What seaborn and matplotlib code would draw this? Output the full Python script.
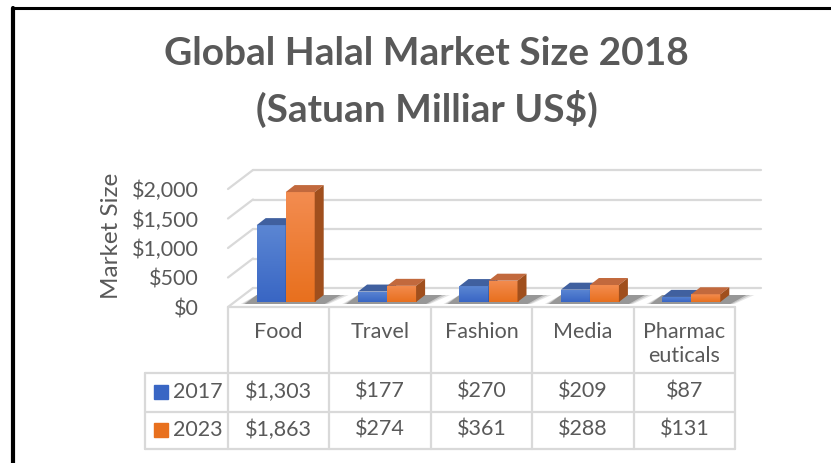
import numpy as np
import pandas as pd
import seaborn as sns
import matplotlib.pyplot as plt
from matplotlib.patches import Polygon
from matplotlib.lines import Line2D
from matplotlib.colors import LinearSegmentedColormap

# data
categories = ["Food", "Travel", "Fashion", "Media", "Pharmaceuticals"]
table_labels = ["Food", "Travel", "Fashion", "Media", "Pharmac\neuticals"]
years = ["2017", "2023"]
values_2017 = [1303, 177, 270, 209, 87]
values_2023 = [1863, 274, 361, 288, 131]
y_ticks = [0, 500, 1000, 1500, 2000]

df = pd.DataFrame({
    "Category": categories * 2,
    "Year": [years[0]] * 5 + [years[1]] * 5,
    "Value": values_2017 + values_2023,
})

sns.set_theme(style="white")
plt.rcParams["font.family"] = ["Lato", "DejaVu Sans"]
grey = "#595959"
line_grey = "#D9D9D9"

# colours: front (top, bottom of gradient), top face, side face
front_cols = {"2017": ("#5B86D3", "#3966C4"), "2023": ("#F38C50", "#E8701E")}
top_cols = {"2017": "#40609F", "2023": "#C2693D"}
side_cols = {"2017": "#2E4E8E", "2023": "#A04F1D"}

W, H = 831, 463
fig = plt.figure(figsize=(W / 100, H / 100), dpi=100)


def frac(left, top, right, bottom):
    return [left / W, 1 - bottom / H, (right - left) / W, (bottom - top) / H]


px_y = 0.059          # pixels per value unit on the front plane
ymax = 2400
ax = fig.add_axes(frac(228, 307 - ymax * px_y, 735, 307))
ax.set_facecolor("none")

sns.barplot(data=df, x="Category", y="Value", hue="Year", order=categories,
            hue_order=years, palette={y: front_cols[y][1] for y in years},
            width=0.572, saturation=1, legend=False, ax=ax)
ax.set_xlim(-0.5, 4.5)
ax.set_ylim(0, ymax)
px_x = ax.bbox.width / 5 / (fig.dpi / 100)


def off(dx, dy):
    # pixel offset -> data offset
    return dx / px_x, dy / px_y


# back wall and side wall
wdx, wdy = off(25, 19)
for v in y_ticks:
    ax.plot([-0.5 + wdx, 4.5 + wdx + 0.01], [v + wdy, v + wdy], color=line_grey,
            lw=1.6, zorder=1, clip_on=False)
    ax.plot([-0.5, -0.5 + wdx], [v, v + wdy], color=line_grey, lw=1.6,
            zorder=1, clip_on=False)

# bars in 3D
sx, sy = off(7, 5)
bdx, bdy = off(9, 7)
bars = [p for p in ax.patches]
for i, p in enumerate(bars):
    yr = years[i // 5]
    z = 3 if yr == "2017" else 4
    x0 = p.get_x() + sx
    w, h = p.get_width(), p.get_height()
    p.set_x(x0)
    p.set_y(sy)
    p.set_zorder(z)
    p.set_edgecolor("none")
    x1, y0, y1 = x0 + w, sy, sy + h
    cmap = LinearSegmentedColormap.from_list("g", [front_cols[yr][1], front_cols[yr][0]])
    im = ax.imshow(np.linspace(0, 1, 64).reshape(-1, 1), extent=[x0, x1, y0, y1],
                   origin="lower", cmap=cmap, aspect="auto", zorder=z + 0.01)
    im.set_clip_path(p)
    ax.add_patch(Polygon([(x0, y1), (x1, y1), (x1 + bdx, y1 + bdy), (x0 + bdx, y1 + bdy)],
                         closed=True, facecolor=top_cols[yr], edgecolor="none",
                         zorder=z + 0.02, clip_on=False))
    ax.add_patch(Polygon([(x1, y0), (x1, y1), (x1 + bdx, y1 + bdy), (x1 + bdx, y0 + bdy)],
                         closed=True, facecolor=side_cols[yr], edgecolor="none",
                         zorder=z + 0.02, clip_on=False))

# soft shadows on the floor
for i in range(5):
    b, o = bars[i], bars[i + 5]
    xl, xr = b.get_x(), o.get_x() + o.get_width()
    for k, a in zip(range(3), [0.12, 0.18, 0.3]):
        e = 6 - 2 * k
        pts = [(xl - off(10 + e, 0)[0], sy - off(0, 2)[1]),
               (xr + off(8 + e, 0)[0], sy - off(0, 2)[1]),
               (xr + off(22 + 2 * e, 0)[0], sy + off(0, 7)[1]),
               (xl, sy + off(0, 7)[1])]
        ax.add_patch(Polygon(pts, closed=True, facecolor="#303030", alpha=a,
                             edgecolor="none", zorder=2, clip_on=False))

ax.set_xlim(-0.5, 4.5)
ax.set_ylim(0, ymax)
ax.set_xticks([])
ax.set_xlabel("")
ax.set_yticks(y_ticks)
ax.set_yticklabels([f"${v:,}" for v in y_ticks])
ax.tick_params(axis="y", length=0, pad=21, labelsize=15.5, labelcolor=grey)
ax.set_ylabel("Market Size", fontsize=17.5, color=grey, labelpad=7)
for s in ax.spines.values():
    s.set_visible(False)
ax.grid(False)

# data table
tax = fig.add_axes(frac(228, 307, 735, 449))
tax.set_xlim(-0.5, 4.5)
tax.set_ylim(142, 0)
tax.axis("off")
x_left = -0.5 - 83 / px_x
kw = dict(color=line_grey, lw=1.6, clip_on=False)
tax.plot([-0.5, 4.5], [0, 0], **kw)
for yy in [66, 105, 142]:
    tax.plot([x_left, 4.5], [yy, yy], **kw)
for i in range(6):
    tax.plot([i - 0.5, i - 0.5], [0, 142], **kw)
tax.plot([x_left, x_left], [66, 142], **kw)

for i, lab in enumerate(table_labels):
    tax.text(i, 15, lab, ha="center", va="top", fontsize=15.5, color=grey,
             linespacing=1.25)
for row_y, yr, vals in [(85, years[0], values_2017), (123, years[1], values_2023)]:
    tax.plot([x_left + 16 / px_x], [row_y], marker="s", markersize=9.5,
             color=front_cols[yr][1], clip_on=False)
    tax.text(x_left + 28 / px_x, row_y, yr, ha="left", va="center", fontsize=15.5,
             color=grey)
    for i, v in enumerate(vals):
        tax.text(i, row_y, f"${v:,}", ha="center", va="center", fontsize=15.5,
                 color=grey)

# title
fig.text(426.5 / W, 1 - 65 / H, "Global Halal Market Size 2018", ha="center",
         va="baseline", fontsize=28, fontweight="bold", color=grey)
fig.text(426.5 / W, 1 - 122 / H, "(Satuan Milliar US$)", ha="center",
         va="baseline", fontsize=28, fontweight="bold", color=grey)

# screenshot frame
fig.add_artist(Line2D([13 / W, 13 / W], [0, 1 - 8 / H], color="black", lw=3))
fig.add_artist(Line2D([13 / W, 1], [1 - 8 / H, 1 - 8 / H], color="black", lw=2.2))

fig.savefig("out.png", dpi=100)
